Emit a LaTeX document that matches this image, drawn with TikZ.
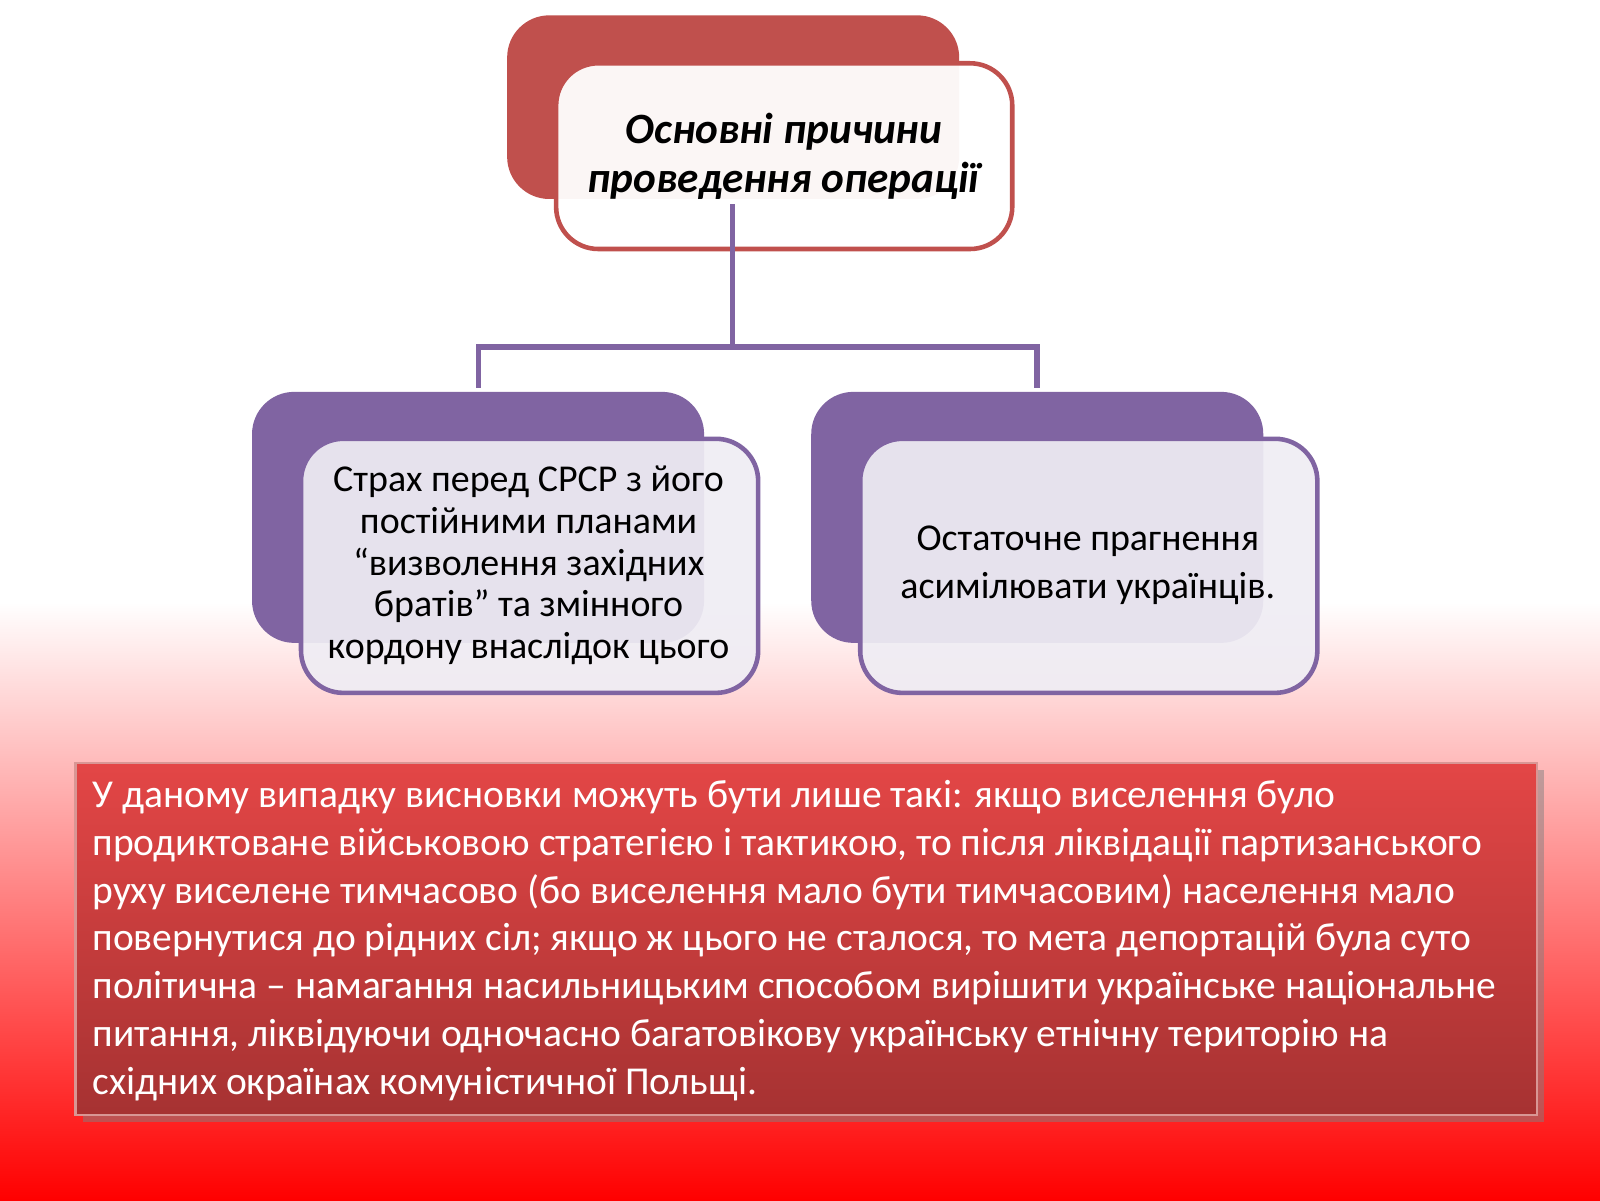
\documentclass[tikz,border=0pt]{standalone}
\usepackage{fontspec}
\setmainfont{Carlito}
\usetikzlibrary{shadows}
\definecolor{rd}{HTML}{C0504D}
\definecolor{pu}{HTML}{8064A2}
\definecolor{lp}{HTML}{EFEDF4}
\definecolor{btop}{HTML}{E34646}
\definecolor{bbot}{HTML}{A63232}
\begin{document}
\begin{tikzpicture}[x=0.010204cm,y=-0.010204cm,
 back/.style={rounded corners=12pt,draw=none},
 front/.style={rounded corners=12pt,line width=1.3pt},
 conn/.style={draw=pu,line width=1.6pt}]
\useasboundingbox (0,0) rectangle (1568,1176);
\fill[white] (0,0) rectangle (1568,590);
\shade[top color=white,bottom color=red] (0,590) rectangle (1568,1176);
% top
\fill[rd,back] (497,15) rectangle (940,195);
\draw[front,draw=rd,fill=white,fill opacity=0.95] (545,62) rectangle (992,244);
\node[align=center,font=\fontsize{12.3}{14pt}\selectfont\bfseries\itshape] (t) at (768,153) {Основні причини\\проведення операції};
\coordinate (c0) at (718,200);
\coordinate (cm) at (718,340);
\coordinate (l0) at (469,380);
\coordinate (r0) at (1016,380);
\draw[conn] (c0) -- (cm);
\draw[conn] (l0) |- (cm) -| (r0);
% left
\fill[pu,back] (247,384) rectangle (690,630);
\draw[front,draw=pu,fill=lp,fill opacity=0.92] (295,430) rectangle (743,679);
\node[align=center,font=\fontsize{10.8}{11.9pt}\selectfont] (l) at (518,554) {Страх перед СРСР з його\\постійними планами\\“визволення західних\\братів” та змінного\\кордону внаслідок цього};
% right
\fill[pu,back] (795,384) rectangle (1238,630);
\draw[front,draw=pu,fill=lp,fill opacity=0.92] (843,430) rectangle (1291,679);
\node[align=center,font=\fontsize{10.8}{13.5pt}\selectfont] (r) at (1066,554) {Остаточне прагнення\\асимілювати українців.};
% bottom
\shade[top color=btop,bottom color=bbot,drop shadow={opacity=0.5,shadow xshift=2pt,shadow yshift=-2pt}] (74,748) rectangle (1506,1093);
\draw[rd!60!white,line width=0.6pt] (74,748) rectangle (1506,1093);
\node[anchor=north west,align=left,text=white,font=\fontsize{11.25}{13.6pt}\selectfont,inner sep=0pt] (b) at (90,764) {У даному випадку висновки можуть бути лише такі: якщо виселення було\\продиктоване військовою стратегією і тактикою, то після ліквідації партизанського\\руху виселене тимчасово (бо виселення мало бути тимчасовим) населення мало\\повернутися до рідних сіл; якщо ж цього не сталося, то мета депортацій була суто\\політична – намагання насильницьким способом вирішити українське національне\\питання, ліквідуючи одночасно багатовікову українську етнічну територію на\\східних окраїнах комуністичної Польщі.};
\end{tikzpicture}
\end{document}
